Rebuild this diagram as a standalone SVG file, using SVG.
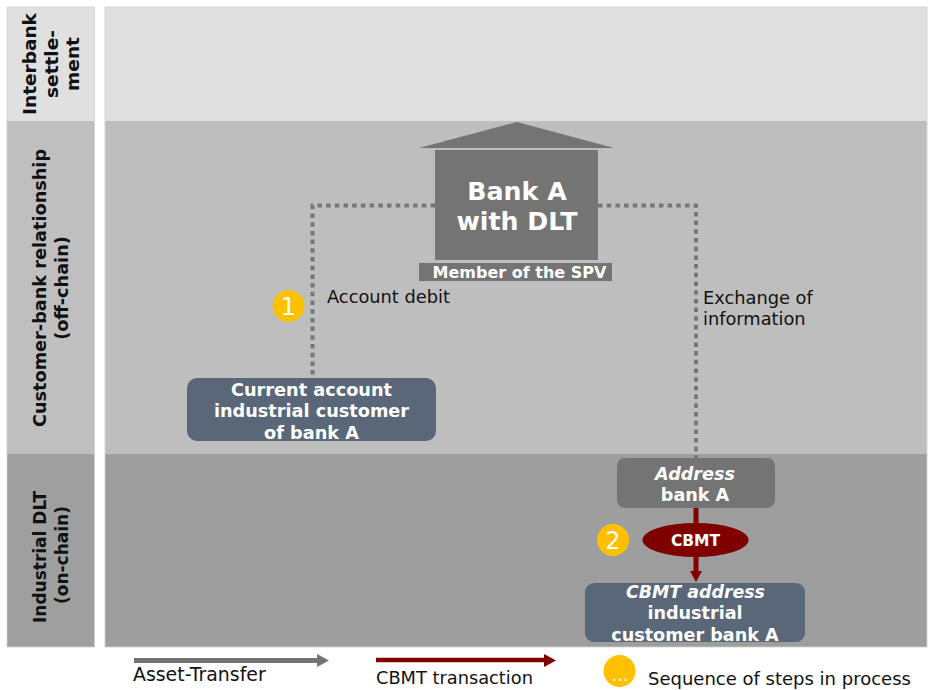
<svg xmlns="http://www.w3.org/2000/svg" width="928" height="690" viewBox="0 0 928 690">
<style>
text{font-family:"DejaVu Sans",Verdana,sans-serif}
.lane{font-size:17.700px;font-weight:bold;fill:#111;text-anchor:middle}
.w{fill:#fff;font-weight:bold;text-anchor:middle}
.t{font-size:17.800px;fill:#111}
.num{font-size:24px;fill:#fff;text-anchor:middle}
.dot{fill:none;stroke:#777;stroke-width:4;stroke-dasharray:4.500 4.200}
.badge{fill:#ffc000}
</style>
<defs>
<filter id="sh" x="-10%" y="-50%" width="120%" height="250%"><feGaussianBlur stdDeviation="1.2"/></filter>
</defs>
<g id="lanes">
<rect x="7" y="7" width="87.500" height="114" fill="#e0e0e0"/>
<rect x="7" y="121" width="87.500" height="333" fill="#bfbfbf"/>
<rect x="7" y="454" width="87.500" height="193" fill="#9f9f9f"/>
<rect x="105" y="7" width="822" height="114" fill="#dfdfdf"/>
<rect x="105" y="121" width="822" height="333" fill="#bebebe"/>
<rect x="105" y="454" width="822" height="193" fill="#9e9e9e"/>
<rect x="7" y="7" width="87.500" height="640" fill="none" stroke="#ccd4cc" stroke-width=".8"/>
<rect x="105" y="7" width="822" height="640" fill="none" stroke="#ccd4cc" stroke-width=".8"/>
<text class="lane" style="font-size:18.500px" transform="translate(36,64) rotate(-90)">Interbank</text>
<text class="lane" style="font-size:18.500px" transform="translate(58,64) rotate(-90)">settle-</text>
<text class="lane" style="font-size:18.500px" transform="translate(79,64) rotate(-90)">ment</text>
<text class="lane" transform="translate(46,288) rotate(-90)">Customer-bank relationship</text>
<text class="lane" transform="translate(68,288) rotate(-90)">(off-chain)</text>
<text class="lane" style="font-size:17px" transform="translate(46,557) rotate(-90)">Industrial DLT</text>
<text class="lane" style="font-size:17px" transform="translate(68,555) rotate(-90)">(on-chain)</text>
</g>
<g id="connectors">
<path class="dot" d="M435 205.500H312.500V378"/>
<path class="dot" d="M598 205.500H696V458"/>
<path d="M696 508V572" fill="none" stroke="#800000" stroke-width="5"/>
<polygon points="690,571 702,571 696,582" fill="#800000"/>
</g>
<g id="bank">
<polygon points="419,148 517,122 614,148" fill="#747474"/>
<rect x="435" y="150" width="163" height="110" fill="#747474"/>
<text class="w" x="517" y="200" font-size="25.300">Bank A</text>
<text class="w" x="517" y="230" font-size="25.300">with DLT</text>
</g>
<g id="spv">
<rect x="419" y="263" width="193" height="18" fill="#747474"/>
<text class="w" x="519.500" y="278" font-size="16">Member of the SPV</text>
</g>
<g id="current-account">
<rect x="187" y="378" width="249" height="63" rx="10" fill="#596778"/>
<text class="w" x="311.500" y="396" font-size="17.700">Current account</text>
<text class="w" x="311.500" y="417" font-size="17.700">industrial customer</text>
<text class="w" x="311.500" y="439" font-size="17.700">of bank A</text>
</g>
<g id="address-bank">
<rect x="617" y="458" width="158" height="50" rx="8" fill="#747474"/>
<text class="w" x="695" y="480" font-size="17.600" font-style="italic">Address</text>
<text class="w" x="695" y="501" font-size="17.600">bank A</text>
</g>
<g id="cbmt">
<ellipse cx="695.500" cy="540" rx="53" ry="17" fill="#800000"/>
<text class="w" x="695.500" y="546" font-size="15.500">CBMT</text>
</g>
<g id="cbmt-address">
<rect x="585" y="583" width="220" height="59" rx="9" fill="#596778"/>
<text class="w" x="695.500" y="598" font-size="17.400" font-style="italic">CBMT address</text>
<text class="w" x="695" y="619" font-size="17.600">industrial</text>
<text class="w" x="695" y="641" font-size="17.600">customer bank A</text>
</g>
<g id="step-1">
<circle class="badge" cx="288.500" cy="306" r="16"/>
<text class="num" x="288.500" y="315">1</text>
</g>
<g id="step-2">
<circle class="badge" cx="613" cy="540" r="16"/>
<text class="num" x="613" y="549">2</text>
</g>
<text class="t" x="327" y="303">Account debit</text>
<text class="t" x="703" y="304">Exchange of</text>
<text class="t" x="703" y="325">information</text>
<g id="legend">
<path d="M134 661H318" stroke="#555" stroke-opacity=".5" stroke-width="5" filter="url(#sh)" transform="translate(1,2)"/>
<path d="M134 660.500H318" stroke="#747474" stroke-width="5" fill="none"/>
<polygon points="317,654 329,660.500 317,667" fill="#747474"/>
<path d="M376 662H545" stroke="#555" stroke-opacity=".4" stroke-width="4" filter="url(#sh)" transform="translate(1,1)"/>
<path d="M376 660H545" stroke="#800000" stroke-width="4.500" fill="none"/>
<polygon points="544,654 556,660.500 544,667" fill="#800000"/>
<text class="t" style="font-size:18.900px" x="133" y="681">Asset-Transfer</text>
<text class="t" x="376" y="684">CBMT transaction</text>
<circle class="badge" cx="619.500" cy="671" r="16"/>
<text x="620" y="681" font-size="18" fill="#fff" text-anchor="middle">...</text>
<text class="t" style="font-size:18px" x="648" y="685">Sequence of steps in process</text>
</g>
</svg>
